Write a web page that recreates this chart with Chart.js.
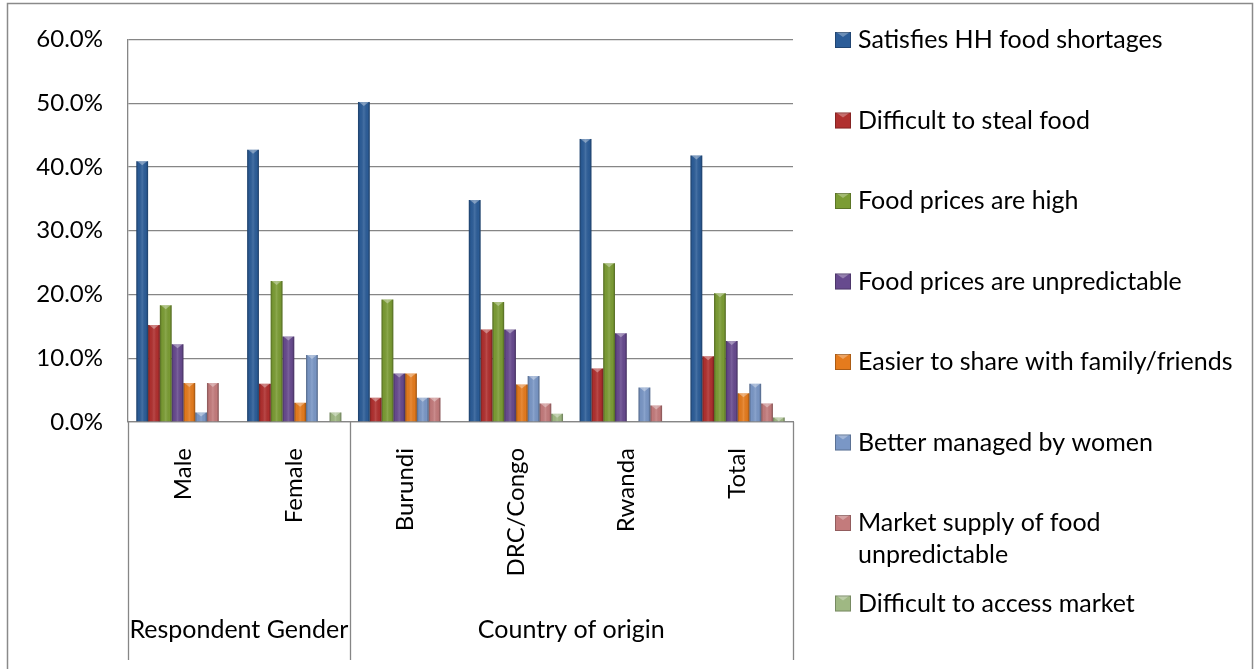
<!DOCTYPE html>
<html>
<head>
<meta charset="utf-8">
<script src="https://cdn.jsdelivr.net/npm/chart.js@4.4.1/dist/chart.umd.min.js"></script>
<style>
  html, body { margin: 0; padding: 0; background: #ffffff; }
  #wrap { width: 1255px; height: 669px; position: relative; }
  canvas { display: block; }
</style>
</head>
<body>
<div id="wrap"><canvas id="chart" width="1255" height="669"></canvas></div>
<script>
// Categories along the x axis and the groups they belong to
const categories = ['Male', 'Female', 'Burundi', 'DRC/Congo', 'Rwanda', 'Total'];
const groupLabels = ['Respondent Gender', 'Country of origin'];
const groupSizes = [2, 4];

// Reasons (series), values in percent
const seriesNames = [
  'Satisfies HH food shortages',
  'Difficult to steal food',
  'Food prices are high',
  'Food prices are unpredictable',
  'Easier to share with family/friends',
  'Better managed by women',
  'Market supply of food unpredictable',
  'Difficult to access market'
];
const satisfiesShortages   = [40.9, 42.7, 50.2, 34.8, 44.4, 41.8];
const difficultToSteal     = [15.2,  6.0,  3.8, 14.5,  8.4, 10.3];
const pricesHigh           = [18.3, 22.1, 19.2, 18.8, 24.9, 20.2];
const pricesUnpredictable  = [12.2, 13.4,  7.6, 14.5, 13.9, 12.7];
const easierToShare        = [ 6.1,  3.0,  7.6,  5.9,  0.0,  4.5];
const managedByWomen       = [ 1.5, 10.5,  3.8,  7.2,  5.4,  6.0];
const supplyUnpredictable  = [ 6.1,  0.0,  3.8,  2.9,  2.6,  2.9];
const accessMarket         = [ 0.0,  1.5,  0.0,  1.3,  0.0,  0.7];

// Y axis ticks
const yTicks = [0, 10, 20, 30, 40, 50, 60];

const seriesValues = [
  satisfiesShortages, difficultToSteal, pricesHigh, pricesUnpredictable,
  easierToShare, managedByWomen, supplyUnpredictable, accessMarket
];
const seriesColors = [
  '#2c5d98', '#b0302f', '#7b9c34', '#674a8e',
  '#e57b1d', '#7a97c6', '#c37b7c', '#9fb883'
];

const FONT = 'Lato, "Open Sans", sans-serif';
const GRID = '#868686';

// Bevel shading: darker edges, lighter middle and a small cap at the top
const bevelPlugin = {
  id: 'bevel',
  afterDatasetsDraw(chart) {
    const ctx = chart.ctx;
    chart.data.datasets.forEach((ds, di) => {
      const meta = chart.getDatasetMeta(di);
      meta.data.forEach(bar => {
        const p = bar.getProps(['x', 'y', 'base', 'width'], true);
        const h = p.base - p.y;
        if (h < 0.5) return;
        const l = p.x - p.width / 2, r = p.x + p.width / 2;
        ctx.save();
        const g = ctx.createLinearGradient(l, 0, r, 0);
        g.addColorStop(0, 'rgba(0,0,0,0.32)');
        g.addColorStop(0.18, 'rgba(0,0,0,0.02)');
        g.addColorStop(0.5, 'rgba(255,255,255,0.12)');
        g.addColorStop(0.82, 'rgba(0,0,0,0.02)');
        g.addColorStop(1, 'rgba(0,0,0,0.34)');
        ctx.fillStyle = g;
        ctx.fillRect(l, p.y, p.width, h);
        // top cap
        const capH = Math.min(4, h);
        ctx.fillStyle = 'rgba(255,255,255,0.35)';
        ctx.beginPath();
        ctx.moveTo(l + 1, p.y);
        ctx.lineTo(r - 1, p.y);
        ctx.lineTo(p.x, p.y + capH);
        ctx.closePath();
        ctx.fill();
        ctx.restore();
      });
    });
  }
};

// Outer frame, group separators, group labels and legend
const decorPlugin = {
  id: 'decor',
  beforeDraw(chart) {
    const ctx = chart.ctx;
    ctx.save();
    ctx.strokeStyle = '#8a8a8a';
    ctx.lineWidth = 1.5;
    ctx.strokeRect(7.5, 3.5, 1245, 700);
    ctx.restore();
  },
  afterDraw(chart) {
    const ctx = chart.ctx;
    const xs = chart.scales.x;
    const area = chart.chartArea;
    const bottom = 660;
    ctx.save();
    ctx.strokeStyle = GRID;
    ctx.lineWidth = 1.3;
    // boundaries between groups
    const step = (xs.right - xs.left) / categories.length;
    let idx = 0;
    const bounds = [xs.left];
    groupSizes.forEach(n => { idx += n; bounds.push(xs.left + step * idx); });
    bounds.forEach(bx => {
      const px = Math.round(bx) + 0.5;
      ctx.beginPath();
      ctx.moveTo(px, area.bottom);
      ctx.lineTo(px, bottom);
      ctx.stroke();
    });
    ctx.fillStyle = '#000';
    ctx.font = '25px ' + FONT;
    ctx.textAlign = 'center';
    ctx.textBaseline = 'middle';
    groupLabels.forEach((lab, i) => {
      ctx.fillText(lab, (bounds[i] + bounds[i + 1]) / 2, 630);
    });

    // legend
    const lx = 835, tx = 858, maxW = 380;
    let y = 40;
    ctx.textAlign = 'left';
    chart.data.datasets.forEach((ds, i) => {
      const c = ds.backgroundColor;
      ctx.fillStyle = c;
      ctx.fillRect(lx, y - 8, 16, 16);
      ctx.fillStyle = 'rgba(255,255,255,0.3)';
      ctx.beginPath();
      ctx.moveTo(lx + 1, y - 8);
      ctx.lineTo(lx + 15, y - 8);
      ctx.lineTo(lx + 8, y - 3);
      ctx.closePath();
      ctx.fill();
      ctx.strokeStyle = 'rgba(0,0,0,0.25)';
      ctx.lineWidth = 1;
      ctx.strokeRect(lx + 0.5, y - 7.5, 15, 15);
      ctx.fillStyle = '#000';
      // wrap long labels
      const words = ds.label.split(' ');
      const lines = [];
      let cur = '';
      words.forEach(w => {
        const t = cur ? cur + ' ' + w : w;
        if (ctx.measureText(t).width > maxW && cur) { lines.push(cur); cur = w; }
        else cur = t;
      });
      lines.push(cur);
      lines.forEach((ln, k) => ctx.fillText(ln, tx, y + k * 32));
      y += 80.5;
    });
    ctx.restore();
  }
};

const datasets = seriesNames.map((name, i) => ({
  label: name,
  data: seriesValues[i],
  backgroundColor: seriesColors[i],
  borderWidth: 0,
  barPercentage: 1.0,
  categoryPercentage: 0.85
}));

new Chart(document.getElementById('chart'), {
  type: 'bar',
  data: { labels: categories, datasets },
  options: {
    responsive: false,
    animation: false,
    layout: { padding: { left: 0, right: 462, top: 32, bottom: 0 } },
    plugins: { legend: { display: false }, tooltip: { enabled: false } },
    scales: {
      x: {
        grid: { display: false, drawTicks: false },
        border: { display: true, color: GRID, width: 1.3 },
        ticks: {
          autoSkip: false, minRotation: 90, maxRotation: 90, padding: 26,
          color: '#000', font: { family: FONT, size: 24 }
        },
        afterFit(scale) { scale.height = 247; }
      },
      y: {
        min: 0, max: 60,
        afterBuildTicks(scale) { scale.ticks = yTicks.map(v => ({ value: v })); },
        grid: { color: GRID, lineWidth: 1.3, drawTicks: false },
        border: { display: true, color: GRID, width: 1.3 },
        ticks: {
          padding: 25, color: '#000', font: { family: FONT, size: 24 },
          callback: v => v.toFixed(1) + '%'
        },
        afterFit(scale) { scale.width = 128; }
      }
    }
  },
  plugins: [bevelPlugin, decorPlugin]
});
</script>
</body>
</html>
